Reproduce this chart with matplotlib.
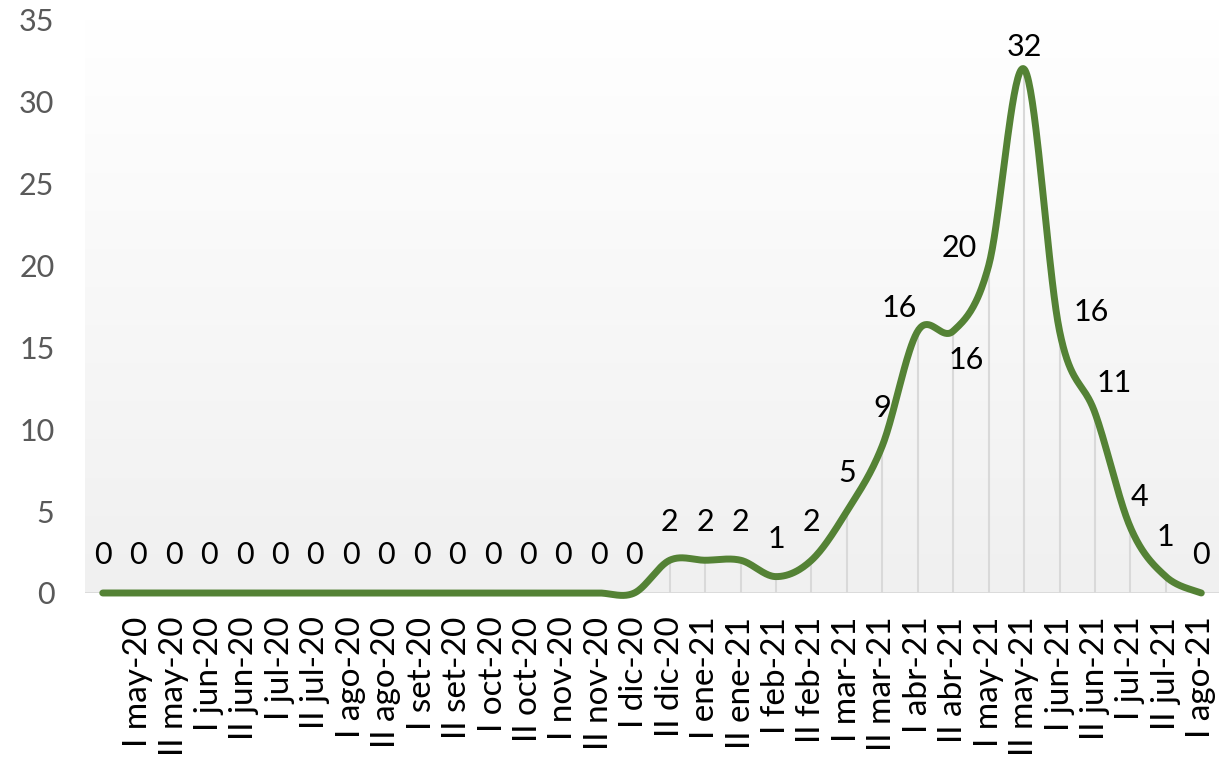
import numpy as np
import matplotlib.pyplot as plt
from matplotlib.colors import LinearSegmentedColormap

plt.rcParams['font.family'] = ['Lato', 'DejaVu Sans']

# Data
periods = ["", "I may-20", "II may-20", "I jun-20", "II jun-20", "I jul-20", "II jul-20",
           "I ago-20", "II ago-20", "I set-20", "II set-20", "I oct-20", "II oct-20",
           "I nov-20", "II nov-20", "I dic-20", "II dic-20", "I ene-21", "II ene-21",
           "I feb-21", "II feb-21", "I mar-21", "II mar-21", "I abr-21", "II abr-21",
           "I may-21", "II may-21", "I jun-21", "II jun-21", "I jul-21", "II jul-21",
           "I ago-21"]
cases = [0, 0, 0, 0, 0, 0, 0, 0, 0, 0, 0, 0, 0, 0, 0, 0,
         2, 2, 2, 1, 2, 5, 9, 16, 16, 20, 32, 16, 11, 4, 1, 0]

# label offsets in pixels (dx, dy), default straight above
label_offsets = {23: (-19, 23), 24: (13, -29), 25: (-29, 18), 26: (0, 22),
                 27: (32, 19), 28: (19, 30), 29: (9, 30), 30: (0, 40)}

line_color = '#548235'
grid_gray = '#d9d9d9'


def smooth(x, y, n=40):
    # Excel-like smoothed line (Catmull-Rom as cubic Bezier)
    pts = np.column_stack([x, y]).astype(float)
    ext = np.vstack([pts[0], pts, pts[-1]])
    t = np.linspace(0, 1, n)[:, None]
    out = []
    for i in range(len(pts) - 1):
        p0, p3 = ext[i + 1], ext[i + 2]
        c1 = p0 + (ext[i + 2] - ext[i]) / 6
        c2 = p3 - (ext[i + 3] - ext[i + 1]) / 6
        seg = (1 - t)**3 * p0 + 3 * (1 - t)**2 * t * c1 + 3 * (1 - t) * t**2 * c2 + t**3 * p3
        out.append(seg)
    return np.vstack(out)


fig = plt.figure(figsize=(12.27, 7.62), dpi=100)
ax = fig.add_axes([0.0693, 0.2218, 0.9242, 0.752])

x = np.arange(len(cases))
ax.set_xlim(-0.5, len(cases) - 0.5)
ax.set_ylim(0, 35)

# gradient plot area
cmap = LinearSegmentedColormap.from_list('bg', ['#ffffff', '#f0f0f0'])
ax.imshow(np.linspace(0, 1, 256).reshape(-1, 1), cmap=cmap, aspect='auto',
          extent=[-0.5, len(cases) - 0.5, 0, 35], zorder=0)

# drop lines
ax.vlines(x, 0, cases, color=grid_gray, lw=1.5, zorder=1)
ax.axhline(0, color=grid_gray, lw=2, zorder=1)

curve = smooth(x, cases)
ax.plot(curve[:, 0], curve[:, 1], color=line_color, lw=5, solid_capstyle='round',
        zorder=3, clip_on=False)

for i, v in enumerate(cases):
    dx, dy = label_offsets.get(i, (0, 38))
    ax.annotate(str(v), (i, v), xytext=(dx, dy), textcoords='offset pixels',
                ha='center', va='center', fontsize=22, color='black', zorder=4)

ax.set_xticks(x)
ax.set_xticklabels(periods, rotation=90, fontsize=24)
ax.set_yticks(np.arange(0, 36, 5))
ax.tick_params(axis='y', length=0, pad=22, labelsize=22, labelcolor='#595959')
ax.tick_params(axis='x', length=0, pad=17)
for s in ax.spines.values():
    s.set_visible(False)

fig.savefig('out.png', dpi=100)
